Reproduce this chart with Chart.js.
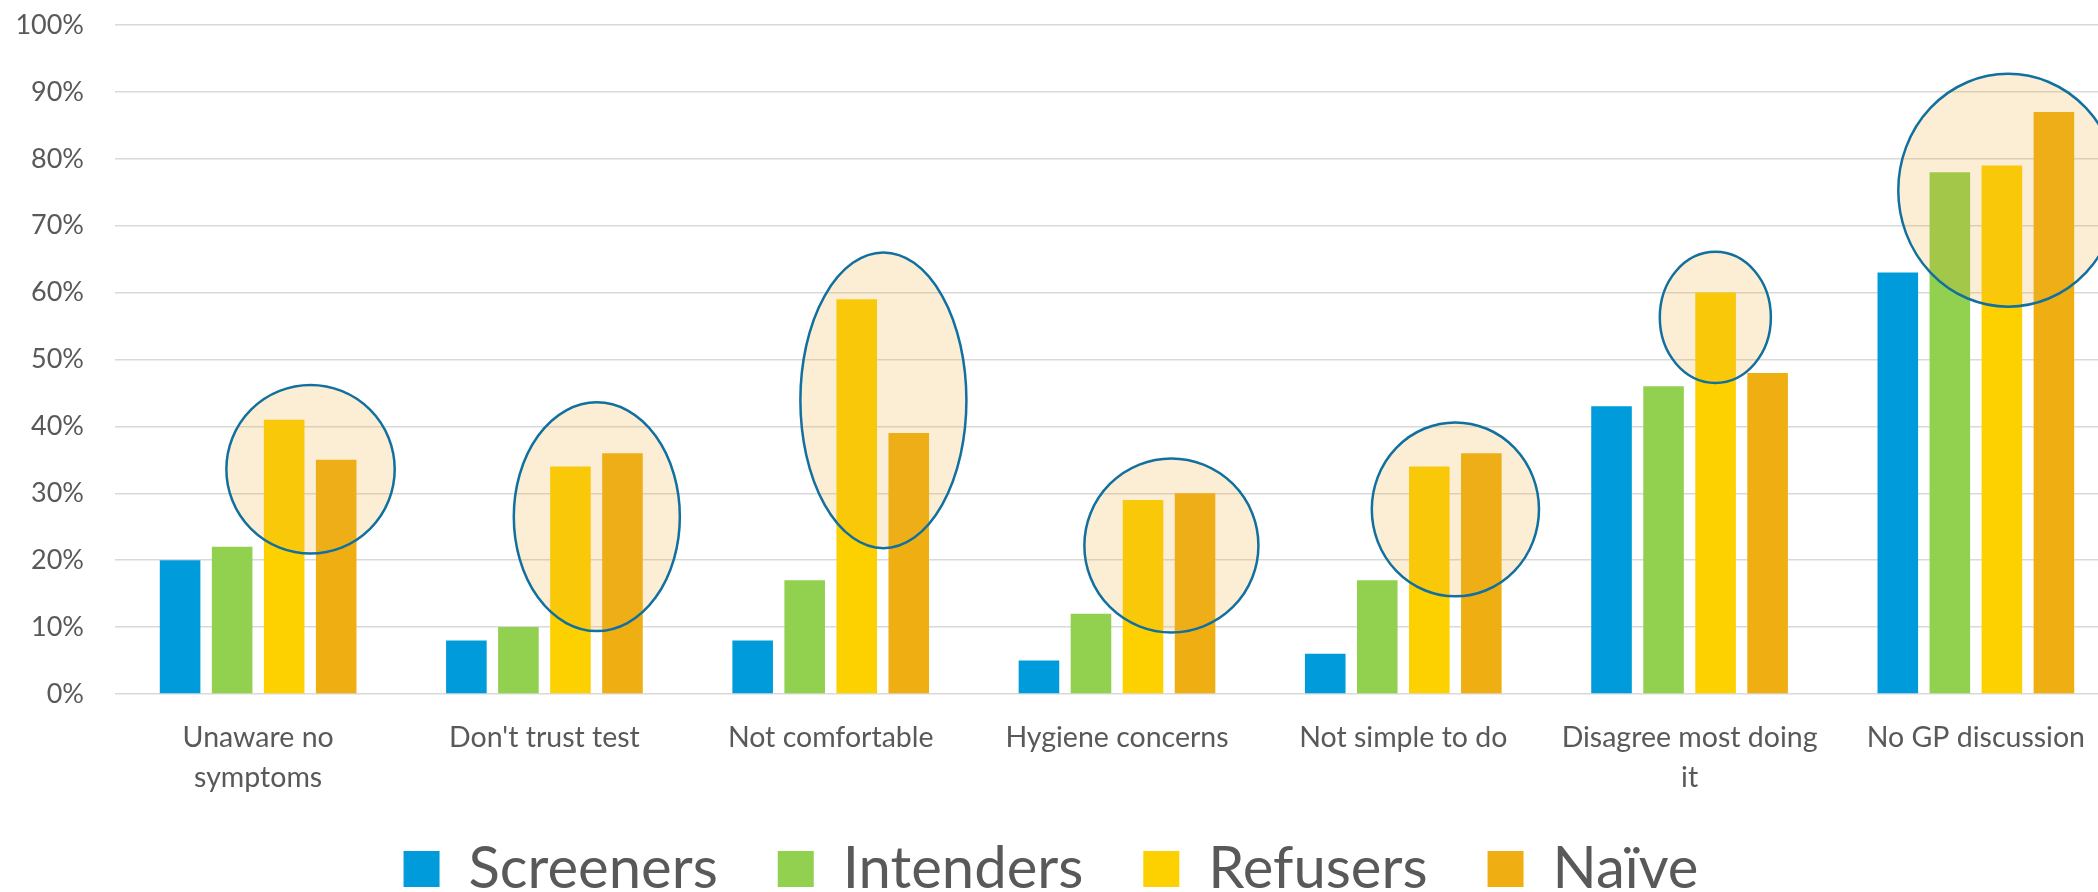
<!DOCTYPE html>
<html>
<head>
<meta charset="utf-8">
<script src="https://cdn.jsdelivr.net/npm/chart.js@4.4.1/dist/chart.umd.min.js"></script>
<style>
  html, body { margin: 0; padding: 0; background: #fff; overflow: hidden; }
  #wrap { width: 2119px; height: 892px; }
</style>
</head>
<body>
<div id="wrap"><canvas id="myChart" width="2119" height="892"></canvas></div>
<script>
const categories = [
	['Unaware no', 'symptoms'],
	"Don't trust test",
	'Not comfortable',
	'Hygiene concerns',
	'Not simple to do',
	['Disagree most doing', 'it'],
	'No GP discussion',
];
const screeners = [20, 8, 8, 5, 6, 43, 63];
const intenders = [22, 10, 17, 12, 17, 46, 78];
const refusers = [41, 34, 59, 29, 34, 60, 79];
const naive = [35, 36, 39, 30, 36, 48, 87];
const seriesNames = ['Screeners', 'Intenders', 'Refusers', 'Naïve'];
const yTicks = [0, 10, 20, 30, 40, 50, 60, 70, 80, 90, 100];

// highlight rings: which category, centre offset and x radius in category widths, centre and y radius in %
const ringIndex = [0, 1, 2, 3, 4, 5, 6];
const ringOffset = [0.183, 0.183, 0.184, 0.19, 0.182, 0.09, 0.113];
const ringCentre = [33.6, 26.5, 43.9, 22.2, 27.6, 56.3, 75.3];
const ringRadiusX = [0.294, 0.29, 0.29, 0.304, 0.292, 0.194, 0.384];
const ringRadiusY = [12.6, 17.1, 22.1, 13, 13, 9.8, 17.4];

const colors = ['#009bda', '#92d050', '#fdd000', '#efaf12'];
const textColor = '#595959';
const fontName = 'Lato, "Open Sans", sans-serif';

const rings = {
	id: 'rings',
	afterDatasetsDraw(chart) {
		const x = chart.scales.x;
		const y = chart.scales.y;
		const catW = x.getPixelForValue(1) - x.getPixelForValue(0);
		const ctx = chart.ctx;
		ctx.save();
		ringIndex.forEach((i, k) => {
			const cx = x.getPixelForValue(i) + ringOffset[k] * catW;
			const cy = y.getPixelForValue(ringCentre[k]);
			const rx = ringRadiusX[k] * catW;
			const ry = y.getPixelForValue(0) - y.getPixelForValue(ringRadiusY[k]);
			ctx.beginPath();
			ctx.ellipse(cx, cy, rx, ry, 0, 0, Math.PI * 2);
			ctx.fillStyle = 'rgba(235, 172, 45, 0.2)';
			ctx.fill();
			ctx.lineWidth = 2.5;
			ctx.strokeStyle = '#11709f';
			ctx.stroke();
		});
		ctx.restore();
	},
};

// the legend keeps its wide item gaps but sits a bit higher than its own padding would put it
const liftLegend = {
	id: 'liftLegend',
	afterLayout(chart) {
		const lg = chart.legend;
		if (!lg) return;
		lg.top -= 24;
	},
};

const allSeries = [screeners, intenders, refusers, naive];

const ctx = document.getElementById('myChart').getContext('2d');
const myChart = new Chart(ctx, {
	type: 'bar',
	data: {
		labels: categories,
		datasets: allSeries.map((values, i) => ({
			label: seriesNames[i],
			data: values,
			backgroundColor: colors[i],
			borderWidth: 0,
			categoryPercentage: 0.727,
			barPercentage: 0.78,
		})),
	},
	options: {
		responsive: false,
		animation: false,
		layout: { padding: { left: -17, right: 0, top: 25, bottom: 0 } },
		plugins: {
			tooltip: { enabled: false },
			legend: {
				position: 'bottom',
				maxHeight: 88,
				labels: {
					boxWidth: 36,
					boxHeight: 36,
					padding: 60,
					color: textColor,
					font: { family: fontName, size: 58 },
				},
			},
		},
		scales: {
			x: {
				grid: { display: false },
				border: { display: false },
				ticks: {
					color: textColor,
					font: { family: fontName, size: 28.5, lineHeight: 1.41 },
					padding: 16,
					maxRotation: 0,
					autoSkip: false,
				},
				afterFit: (scale) => {
					scale.height = 110;
				},
			},
			y: {
				min: 0,
				max: 100,
				grid: { color: '#d9d9d9', lineWidth: 1.5, drawTicks: true, tickLength: 31, tickColor: 'rgba(0,0,0,0)' },
				border: { display: false },
				afterBuildTicks: (scale) => {
					scale.ticks = yTicks.map((v) => ({ value: v }));
				},
				ticks: {
					color: textColor,
					font: { family: fontName, size: 27 },
					padding: 0,
					callback: (v) => v + '%',
				},
				afterFit: (scale) => {
					scale.width = 132;
				},
			},
		},
	},
	plugins: [rings, liftLegend],
});
</script>
</body>
</html>
